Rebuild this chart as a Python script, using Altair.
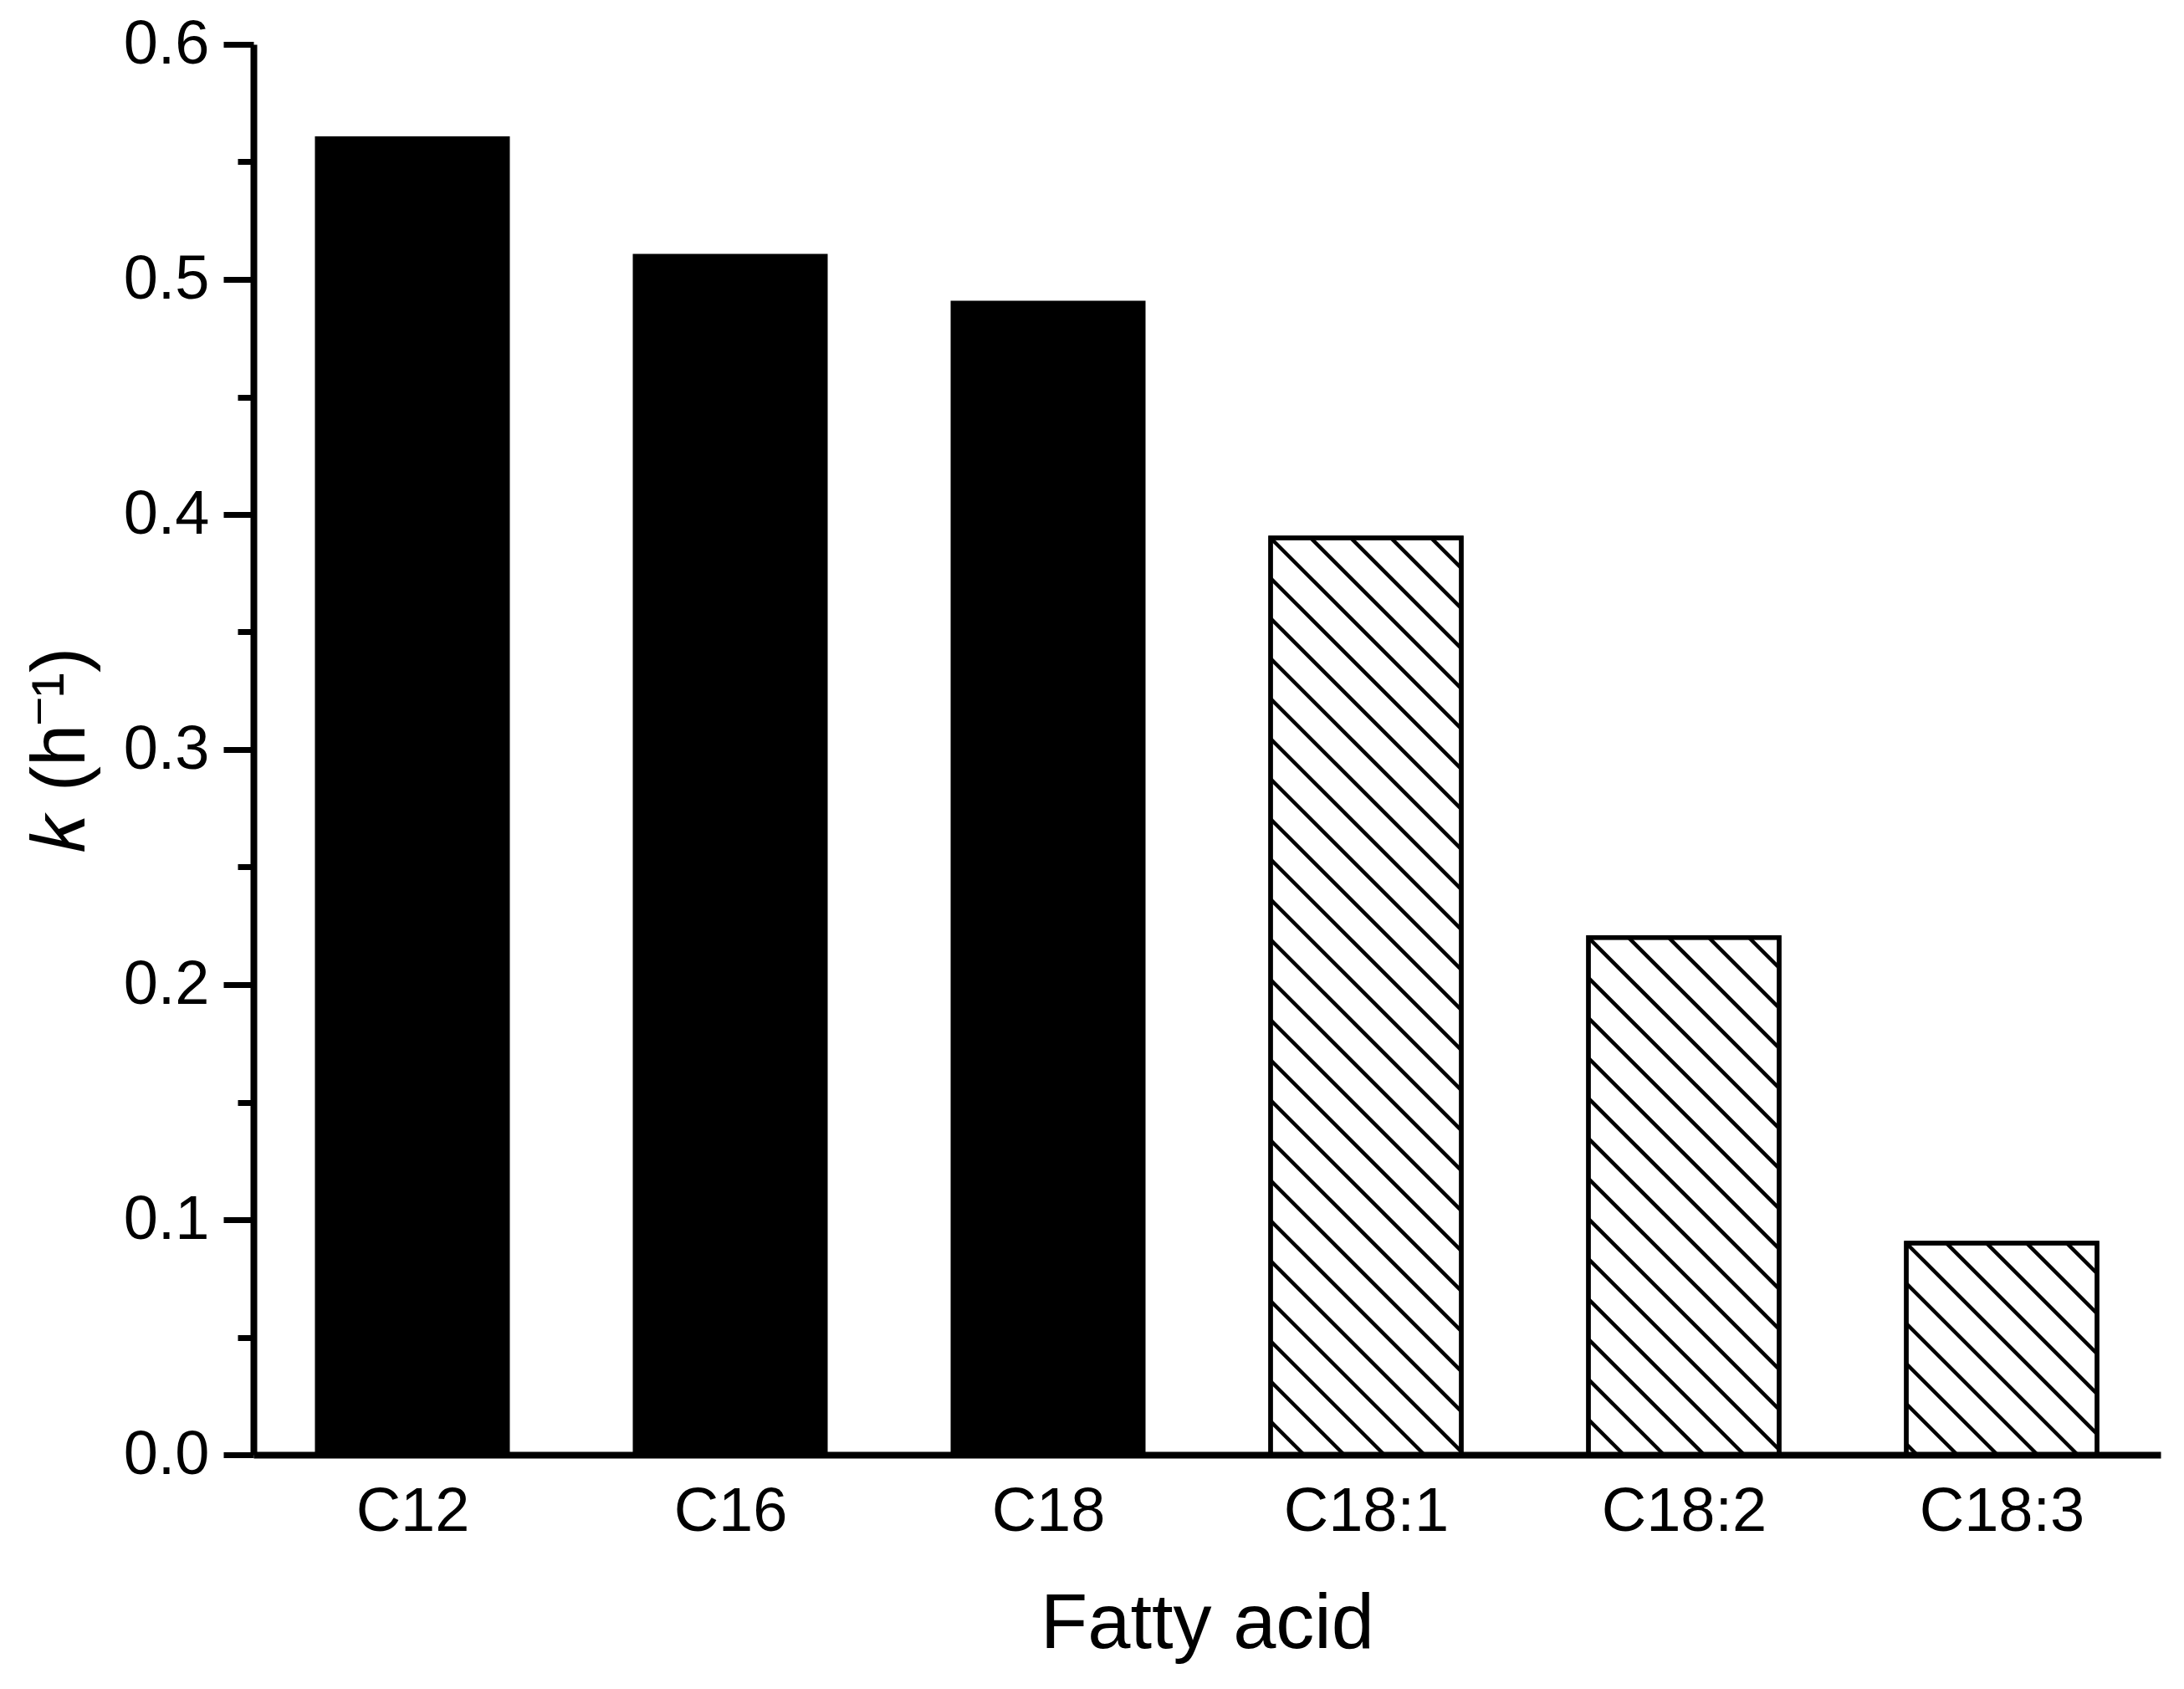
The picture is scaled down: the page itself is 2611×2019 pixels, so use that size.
import math
import altair as alt
import pandas as pd

# ---- data ----
categories = ["C12", "C16", "C18", "C18:1", "C18:2", "C18:3"]
k_values = [0.56, 0.51, 0.49, 0.39, 0.22, 0.09]
hatched = [False, False, False, True, True, True]
y_major = [0.0, 0.1, 0.2, 0.3, 0.4, 0.5, 0.6]
y_all_ticks = [round(i * 0.05, 2) for i in range(13)]

# ---- layout / style constants ----
W, H = 2280, 1686
YMIN, YMAX = 0.0, 0.6
XMIN, XMAX = -0.5, 5.5
BAR_HALF = 0.3
HATCH_SPACING = 48  # px between hatch lines (vertical)
FONT = "Liberation Sans"

px_x = W / (XMAX - XMIN)
px_y = H / (YMAX - YMIN)

bars = pd.DataFrame({
    "cat": categories,
    "pos": list(range(len(categories))),
    "k": k_values,
    "hatched": hatched,
})
bars["x0"] = bars["pos"] - BAR_HALF
bars["x1"] = bars["pos"] + BAR_HALF
bars["zero"] = 0.0

# hatch lines ("\\" direction) clipped to each hatched bar, in data units
rows = []
for _, b in bars[bars["hatched"]].iterrows():
    wb = 2 * BAR_HALF * px_x
    hb = b["k"] * px_y
    kmin = -int(math.floor(wb / HATCH_SPACING))
    kmax = int(math.ceil(hb / HATCH_SPACING))
    for kk in range(kmin, kmax + 1):
        c = kk * HATCH_SPACING
        u0 = max(0.0, -c)
        u1 = min(wb, hb - c)
        if u1 - u0 < 1:
            continue
        rows.append({
            "hx": b["x0"] + u0 / px_x,
            "hy": b["k"] - (u0 + c) / px_y,
            "hx2": b["x0"] + u1 / px_x,
            "hy2": b["k"] - (u1 + c) / px_y,
        })
hatch = pd.DataFrame(rows)

label_js = "[" + ",".join("'" + c + "'" for c in categories) + "]"
major_test = "abs(datum.value*10 - round(datum.value*10)) < 0.001"

xscale = alt.Scale(domain=[XMIN, XMAX], nice=False, zero=False)
yscale = alt.Scale(domain=[YMIN, YMAX], nice=False, zero=True)

x_axis = alt.Axis(
    values=list(range(len(categories))),
    labelExpr=label_js + "[datum.value]",
    ticks=False, grid=False, domainWidth=8, domainColor="black",
    labelFont=FONT, labelFontSize=74, labelColor="black", labelPadding=32,
    labelLimit=0, labelOverlap=False,
    title="Fatty acid", titleFont=FONT, titleFontSize=92, titleFontWeight="normal",
    titleColor="black", titlePadding=52, zindex=1,
)
y_axis = alt.Axis(
    values=y_all_ticks,
    labelExpr="(" + major_test + ") ? format(datum.value, '.1f') : ''",
    tickSize={"condition": {"test": major_test, "value": 36}, "value": 19},
    tickWidth=7, tickColor="black", domainWidth=8, domainColor="black",
    grid=False, labelOverlap=False, labelLimit=0,
    labelFont=FONT, labelFontSize=74, labelColor="black", labelPadding=17,
    title="𝑘 (h⁻¹)", titleFont=FONT, titleFontSize=90, titleFontWeight="normal",
    titleColor="black", titlePadding=28, zindex=1,
)

base = alt.Chart(bars)

fill_rect = base.mark_rect(stroke="black", strokeWidth=5).encode(
    x=alt.X("x0:Q", scale=xscale, axis=x_axis),
    x2="x1",
    y=alt.Y("k:Q", scale=yscale, axis=y_axis),
    y2="zero",
    fill=alt.condition("datum.hatched", alt.value("white"), alt.value("black")),
)

hatch_lines = alt.Chart(hatch).mark_rule(color="black", strokeWidth=4.5).encode(
    x=alt.X("hx:Q", scale=xscale),
    x2="hx2",
    y=alt.Y("hy:Q", scale=yscale),
    y2="hy2",
)

outline = base.transform_filter("datum.hatched").mark_rect(
    stroke="black", strokeWidth=5.5, fillOpacity=0, fill="white"
).encode(
    x=alt.X("x0:Q", scale=xscale),
    x2="x1",
    y=alt.Y("k:Q", scale=yscale),
    y2="zero",
)

chart = alt.layer(fill_rect, hatch_lines, outline).properties(
    width=W, height=H,
    autosize=alt.AutoSizeParams(type="none"),
    padding={"left": 295, "top": 45, "right": 20, "bottom": 272},
    background="white",
).configure_view(stroke=None)

chart.save("out.html", embed_options={"renderer": "svg", "actions": False})
